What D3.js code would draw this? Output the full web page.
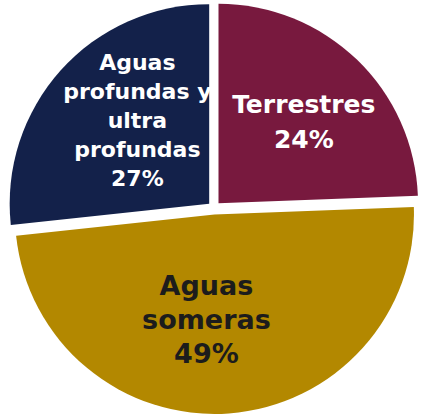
<!DOCTYPE html>
<html>
<head>
<meta charset="utf-8">
<script src="https://cdn.jsdelivr.net/npm/d3@7"></script>
<style>
  html, body { margin: 0; padding: 0; background: #fff; }
  svg { display: block; }
</style>
</head>
<body>
<div id="chart"></div>
<script>
// data (shares estimated from the slice edges, labels rounded)
var categories = ["Terrestres", "Aguas someras", "Aguas profundas y ultra profundas"];
var values = [24.4, 48.9, 26.7];
var labelLines = [
  ["Terrestres"],
  ["Aguas", "someras"],
  ["Aguas", "profundas y", "ultra", "profundas"]
];

var colors = ["#78193E", "#B38800", "#13214A"];
var textColors = ["#ffffff", "#1c1c1c", "#ffffff"];
var fontSizes = [25, 27, 22];
var lineHeights = [35, 34, 29];
var nudges = [[9, -3], [-16, -5], [10, -10]];

var w = 423, h = 418;
var cx = 214, cy = 208;
var r = 199.5;
var explode = 6.5;
var labelR = 110;

var svg = d3.select("#chart")
  .append("svg")
  .attr("width", w)
  .attr("height", h);

var pct = function(v) { return Math.round(v) + "%"; };

var data = categories.map(function(c, i) {
  return {name: c, value: values[i], lines: labelLines[i].concat([pct(values[i])]), idx: i};
});

var pie = d3.pie()
  .sort(null)
  .value(function(d) { return d.value; });

var arcs = pie(data);

var arc = d3.arc().innerRadius(0).outerRadius(r);
var labelArc = d3.arc().innerRadius(labelR).outerRadius(labelR);

var g = svg.append("g").attr("transform", "translate(" + cx + "," + cy + ")");

// push each slice out along its mid angle
var off = function(d) {
  var a = (d.startAngle + d.endAngle) / 2;
  return [explode * Math.sin(a), -explode * Math.cos(a)];
};

g.selectAll("path.slice")
  .data(arcs)
  .enter()
  .append("path")
  .attr("class", "slice")
  .attr("d", arc)
  .attr("transform", function(d) { var o = off(d); return "translate(" + o[0] + "," + o[1] + ")"; })
  .style("fill", function(d) { return colors[d.data.idx]; });

// labels
arcs.forEach(function(d) {
  var i = d.data.idx;
  var o = off(d);
  var c = labelArc.centroid(d);
  var x = c[0] + o[0] + nudges[i][0];
  var y = c[1] + o[1] + nudges[i][1];
  var n = d.data.lines.length;
  var fs = fontSizes[i], lh = lineHeights[i];
  var y0 = y - (n - 1) * lh / 2 + 0.36 * fs;

  var t = g.append("text")
    .attr("text-anchor", "middle")
    .style("font-family", "'DejaVu Sans', sans-serif")
    .style("font-weight", "bold")
    .style("font-size", fs + "px")
    .style("fill", textColors[i]);

  d.data.lines.forEach(function(line, k) {
    t.append("tspan")
      .attr("x", x)
      .attr("y", y0 + k * lh)
      .text(line);
  });
});
</script>
</body>
</html>
